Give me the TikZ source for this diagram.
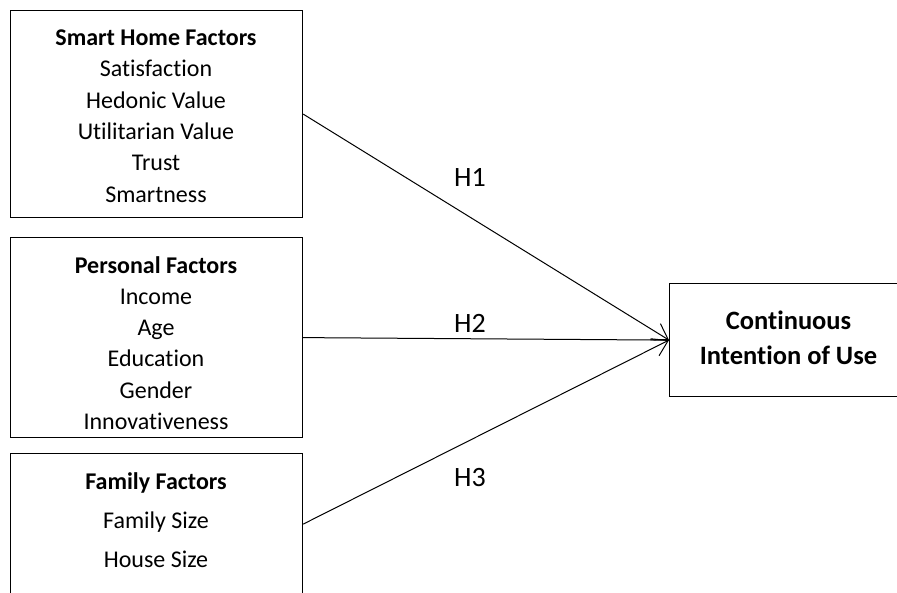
\documentclass[tikz,border=0pt]{standalone}
\usepackage{fontspec}
\setmainfont[Ligatures=NoCommon]{Carlito}
\usetikzlibrary{arrows.meta}
\begin{document}
\begin{tikzpicture}[x=1pt,y=-1pt,
  box/.style={draw=black,line width=1.2pt,rectangle,inner sep=0pt,anchor=north west},
  txt/.style={align=center,inner sep=0pt,font=\fontsize{24}{31.3}\selectfont},
  hlab/.style={inner sep=0pt,font=\fontsize{28}{30}\selectfont},
  link/.style={line width=1pt,black},
  tip/.style={-{Straight Barb[length=15pt,width=19pt,line width=1pt]}}]
\useasboundingbox (0,0) rectangle (897,592);
\clip (0,0) rectangle (897,592);
\node[box,minimum width=292pt,minimum height=207pt] (smart) at (10,10) {};
\node[box,minimum width=292pt,minimum height=200pt] (pers) at (10,237) {};
\node[box,minimum width=292pt,minimum height=141pt] (fam) at (10,453) {};
\node[box,minimum width=240pt,minimum height=113pt] (ciu) at (669,283) {};
\node[txt] (smarttxt) at (156,116) {\textbf{Smart Home Factors}\\Satisfaction\\Hedonic Value\\Utilitarian Value\\Trust\\Smartness};
\node[txt] (perstxt) at (156,343) {\textbf{Personal Factors}\\Income\\Age\\Education\\Gender\\Innovativeness};
\node[txt,font=\fontsize{24}{39}\selectfont] (famtxt) at (156,520) {\textbf{Family Factors}\\Family Size\\House Size};
\node[txt,font=\bfseries\fontsize{26.5}{35}\selectfont] (ciutxt) at (788.5,338) {Continuous\\Intention of Use};
\draw[link,tip] (smart.east) -- (ciu.west);
\draw[link] (pers.east) -- (ciu.west);
\draw[link,tip] (fam.east) -- (ciu.west);
\node[hlab] (h1) at (470,177) {H1};
\node[hlab] (h2) at (470,323) {H2};
\node[hlab] (h3) at (470,478) {H3};
\end{tikzpicture}
\end{document}
